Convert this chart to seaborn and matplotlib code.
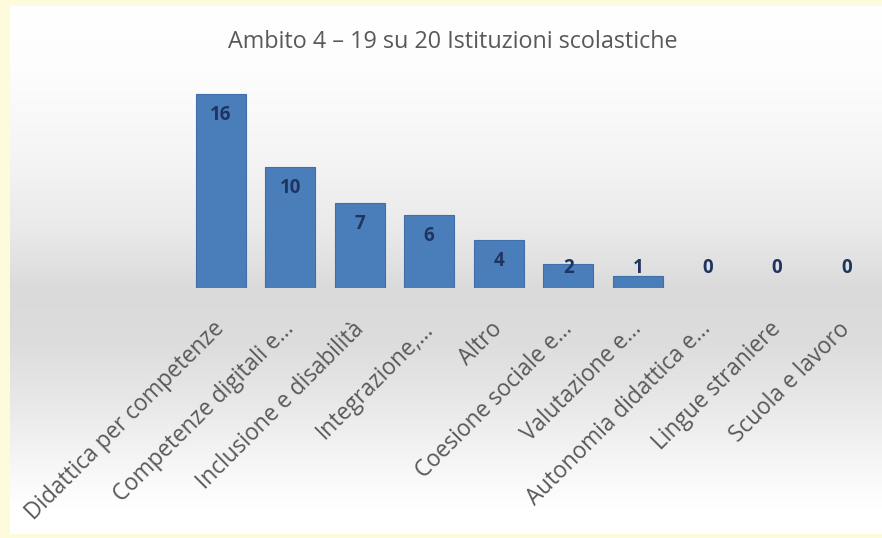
import matplotlib

matplotlib.use("Agg")

import matplotlib.pyplot as plt
import matplotlib.transforms as mtransforms
import numpy as np
import pandas as pd
import seaborn as sns
from matplotlib.colors import LinearSegmentedColormap

# data
categories = [
    "Didattica per competenze",
    "Competenze digitali e...",
    "Inclusione e disabilità",
    "Integrazione,...",
    "Altro",
    "Coesione sociale e...",
    "Valutazione e...",
    "Autonomia didattica e...",
    "Lingue straniere",
    "Scuola e lavoro",
]
counts = [16, 10, 7, 6, 4, 2, 1, 0, 0, 0]
title = "Ambito 4 – 19 su 20 Istituzioni scolastiche"

df = pd.DataFrame({"area": categories, "n": counts})

sns.set_theme(style="white")
plt.rcParams["font.family"] = ["Open Sans", "DejaVu Sans"]

W, H = 882, 538
fig = plt.figure(figsize=(W / 100, H / 100), dpi=100)
fig.patch.set_facecolor("#fdfbdc")

# soft vertical gradient behind the chart (white -> grey -> white)
bg = fig.add_axes([10 / W, 4 / H, 872 / W, 528 / H], zorder=0)
stops = [
    (0.0, "#ffffff"),
    (0.12, "#fdfdfd"),
    (0.28, "#f5f5f5"),
    (0.42, "#eaeaea"),
    (0.54, "#dadada"),
    (0.64, "#dddddd"),
    (0.74, "#e7e7e7"),
    (0.86, "#f5f5f5"),
    (0.95, "#ffffff"),
    (1.0, "#ffffff"),
]
cmap = LinearSegmentedColormap.from_list("bg", stops)
grad = np.linspace(0, 1, 256).reshape(-1, 1)
bg.imshow(grad, cmap=cmap, aspect="auto", extent=[0, 1, 1, 0])
bg.set_axis_off()

ax = fig.add_axes([186 / W, 1 - 288 / H, 695 / W, (288 - 82.3) / H], zorder=1)
ax.set_facecolor("none")
sns.barplot(data=df, x="area", y="n", color="#4a7ebb", saturation=1,
            width=0.72, linewidth=0, ax=ax)
for p in ax.patches:
    if p.get_height() > 0:
        p.set_edgecolor("#3f6ea8")
        p.set_linewidth(0.8)
ax.set_ylim(0, 17)
ax.set_xlim(-0.5, len(categories) - 0.5)

# value labels sit inside the top of the bar, never below a minimum height
px_per_unit = 12.1
for i, v in enumerate(counts):
    y = max(v - 21 / px_per_unit, 20 / px_per_unit)
    ax.text(i, y, str(v), ha="center", va="center", fontsize=13.5,
            fontweight="bold", color="#1f3460")

ax.set_xlabel("")
ax.set_ylabel("")
ax.set_yticks([])
ax.set_xticks(range(len(categories)))
ax.set_xticklabels(categories, rotation=45, ha="right", rotation_mode="anchor",
                   fontsize=16.3, color="#595959")
ax.tick_params(axis="x", length=0, pad=21)
shift = mtransforms.ScaledTranslation(-8 / 100, 0, fig.dpi_scale_trans)
for lbl in ax.get_xticklabels():
    lbl.set_transform(lbl.get_transform() + shift)
sns.despine(ax=ax, left=True, bottom=True)

fig.text(453 / W, 1 - 42 / H, title, ha="center", va="center",
         fontsize=16.8, color="#595959")

fig.savefig("out.png", dpi=100)
